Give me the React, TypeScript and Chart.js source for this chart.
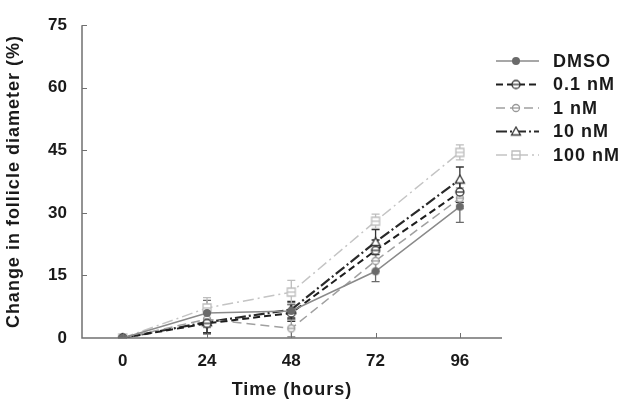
import React, { useEffect, useRef } from "react";
import { Chart, registerables } from "chart.js";

Chart.register(...registerables);

const hours = [0, 24, 48, 72, 96];
const xTicks = [0, 24, 48, 72, 96];
const yTicks = [0, 15, 30, 45, 60, 75];
const seriesNames = ["DMSO", "0.1 nM", "1 nM", "10 nM", "100 nM"];
const xTitle = "Time (hours)";
const yTitle = "Change in follicle diameter (%)";
const dmso = [0, 6, 6.5, 16, 31.5];
const nM01 = [0, 3.5, 6, 21, 35];
const nM1 = [0, 4.5, 2.3, 18.5, 33.5];
const nM10 = [0, 3.8, 6.8, 23, 38];
const nM100 = [0, 7.2, 11, 28, 44.5];
const dmsoErr = [0.5, 3, 2, 2.5, 3.8];
const nM01Err = [0.5, 2.5, 2, 2.5, 2.5];
const nM1Err = [0.5, 2, 2, 2.5, 2.5];
const nM10Err = [0.5, 2.5, 2, 3, 3];
const nM100Err = [0.5, 2.5, 2.8, 1.7, 1.8];

const FONT = "'Liberation Sans', Arial, sans-serif";

function makeMarker(kind: string, color: string): HTMLCanvasElement {
  const c = document.createElement("canvas");
  c.width = 12;
  c.height = 12;
  const g = c.getContext("2d")!;
  g.lineWidth = 1.3;
  g.strokeStyle = color;
  g.fillStyle = "#fff";
  const cx = 6, cy = 6;
  if (kind === "filled") {
    g.fillStyle = color;
    g.beginPath();
    g.arc(cx, cy, 4, 0, Math.PI * 2);
    g.fill();
  } else if (kind === "circleLine") {
    g.beginPath();
    g.arc(cx, cy, 4, 0, Math.PI * 2);
    g.fill();
    g.stroke();
    g.beginPath();
    g.moveTo(cx - 4, cy);
    g.lineTo(cx + 4, cy);
    g.stroke();
  } else if (kind === "smallCircle") {
    g.beginPath();
    g.arc(cx, cy, 3.5, 0, Math.PI * 2);
    g.fill();
    g.stroke();
    g.beginPath();
    g.moveTo(cx - 3.5, cy);
    g.lineTo(cx + 3.5, cy);
    g.stroke();
  } else if (kind === "triangle") {
    g.beginPath();
    g.moveTo(cx, cy - 4.5);
    g.lineTo(cx + 4.5, cy + 3.5);
    g.lineTo(cx - 4.5, cy + 3.5);
    g.closePath();
    g.fill();
    g.stroke();
  } else if (kind === "square") {
    g.beginPath();
    g.rect(cx - 4, cy - 4, 8, 8);
    g.fill();
    g.stroke();
    g.beginPath();
    g.moveTo(cx - 4, cy);
    g.lineTo(cx + 4, cy);
    g.stroke();
  }
  return c;
}

export default function App() {
  const ref = useRef<HTMLCanvasElement>(null);
  useEffect(() => {
    const values = [dmso, nM01, nM1, nM10, nM100];
    const errs = [dmsoErr, nM01Err, nM1Err, nM10Err, nM100Err];
    const colors = ["#8a8a8a", "#1e1e1e", "#a0a0a0", "#2a2a2a", "#c4c4c4"];
    const markerColors = ["#6a6a6a", "#333333", "#999999", "#333333", "#bdbdbd"];
    const dashes = [[], [7, 4], [9, 5], [11, 3, 2, 3], [11, 4, 2, 4]];
    const widths = [1.5, 2, 1.5, 2.2, 1.5];
    const kinds = ["filled", "circleLine", "smallCircle", "triangle", "square"];
    const markers = kinds.map((k, i) => makeMarker(k, markerColors[i]));

    const datasets = values.map((v, i) => ({
      label: seriesNames[i],
      data: hours.map((h, j) => ({ x: h, y: v[j] })),
      borderColor: colors[i],
      borderWidth: widths[i],
      borderDash: dashes[i],
      pointStyle: markers[i],
      pointRadius: 5,
      fill: false,
      tension: 0,
    }));

    const errorPlugin = {
      id: "errbars",
      beforeDatasetsDraw(chart: any) {
        const { ctx, scales } = chart;
        const xs = scales.x, ys = scales.y;
        ctx.save();
        values.forEach((v, i) => {
          ctx.strokeStyle = markerColors[i];
          ctx.lineWidth = 1.3;
          hours.forEach((h, j) => {
            const x = xs.getPixelForValue(h);
            const y1 = ys.getPixelForValue(v[j] + errs[i][j]);
            const y2 = ys.getPixelForValue(Math.max(0, v[j] - errs[i][j]));
            ctx.beginPath();
            ctx.moveTo(x, y1);
            ctx.lineTo(x, y2);
            ctx.moveTo(x - 4, y1);
            ctx.lineTo(x + 4, y1);
            ctx.moveTo(x - 4, y2);
            ctx.lineTo(x + 4, y2);
            ctx.stroke();
          });
        });
        ctx.restore();
      },
      afterDraw(chart: any) {
        const { ctx, scales, chartArea } = chart;
        const xs = scales.x, ys = scales.y;
        ctx.save();
        // axes
        ctx.strokeStyle = "#707070";
        ctx.lineWidth = 1.5;
        ctx.beginPath();
        ctx.moveTo(chartArea.left, chartArea.top);
        ctx.lineTo(chartArea.left, chartArea.bottom);
        ctx.lineTo(chartArea.right, chartArea.bottom);
        ctx.stroke();
        ctx.lineWidth = 1;
        ctx.beginPath();
        yTicks.forEach((t) => {
          if (t === 0) return;
          const y = Math.round(ys.getPixelForValue(t)) + 0.5;
          ctx.moveTo(chartArea.left, y);
          ctx.lineTo(chartArea.left + 5, y);
        });
        xTicks.forEach((t) => {
          const x = Math.round(xs.getPixelForValue(t)) + 0.5;
          ctx.moveTo(x, chartArea.bottom);
          ctx.lineTo(x, chartArea.bottom - 5);
        });
        ctx.stroke();
        // titles
        ctx.fillStyle = "#1a1a1a";
        ctx.font = `bold 18px ${FONT}`;
        (ctx as any).letterSpacing = "1px";
        ctx.textAlign = "center";
        ctx.textBaseline = "middle";
        ctx.fillText(xTitle, (chartArea.left + chartArea.right) / 2, 390);
        ctx.save();
        ctx.translate(14.5, (chartArea.top + chartArea.bottom) / 2);
        ctx.rotate(-Math.PI / 2);
        ctx.fillText(yTitle, 0, 0);
        ctx.restore();
        // legend
        datasets.forEach((d, i) => {
          const y = 61 + i * 23.5;
          ctx.strokeStyle = colors[i];
          ctx.lineWidth = widths[i];
          ctx.setLineDash(dashes[i]);
          ctx.beginPath();
          ctx.moveTo(496, y);
          ctx.lineTo(539, y);
          ctx.stroke();
          ctx.setLineDash([]);
          ctx.drawImage(markers[i], 516 - 6, y - 6);
          ctx.fillStyle = "#1a1a1a";
          ctx.font = `bold 18px ${FONT}`;
          ctx.textBaseline = "middle";
          ctx.textAlign = "left";
          ctx.fillText(d.label, 553, y + 1);
        });
        ctx.restore();
      },
    };

    const chart = new Chart(ref.current!, {
      type: "line",
      data: { datasets: datasets as any },
      options: {
        animation: false,
        responsive: false,
        devicePixelRatio: 1,
        layout: { padding: { left: 0, top: 15, right: 123, bottom: 0 } },
        plugins: { legend: { display: false }, tooltip: { enabled: false } },
        scales: {
          x: {
            type: "linear",
            min: -11.6,
            max: 108,
            afterBuildTicks: (axis: any) => {
              axis.ticks = xTicks.map((v) => ({ value: v }));
            },
            afterFit: (s: any) => {
              s.height = 70;
            },
            grid: { display: false, drawTicks: false },
            border: { display: false },
            ticks: {
              color: "#1a1a1a",
              font: { family: FONT, size: 17, weight: "bold" },
              padding: 13,
              maxRotation: 0,
              autoSkip: false,
            },
          },
          y: {
            type: "linear",
            min: 0,
            max: 75,
            afterBuildTicks: (axis: any) => {
              axis.ticks = yTicks.map((v) => ({ value: v }));
            },
            afterFit: (s: any) => {
              s.width = 82;
            },
            grid: { display: false, drawTicks: false },
            border: { display: false },
            ticks: {
              color: "#1a1a1a",
              font: { family: FONT, size: 17, weight: "bold" },
              padding: 15,
            },
          },
        },
      } as any,
      plugins: [errorPlugin],
    });
    return () => chart.destroy();
  }, []);

  return (
    <div style={{ position: "absolute", left: 0, top: 0, width: 625, height: 408, background: "#fff" }}>
      <canvas ref={ref} width={625} height={408} style={{ width: 625, height: 408 }} />
    </div>
  );
}
